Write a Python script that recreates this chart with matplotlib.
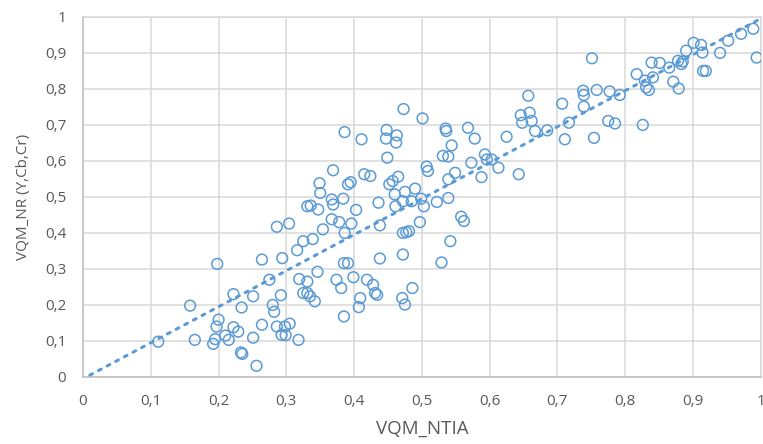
import matplotlib.pyplot as plt
import numpy as np
from matplotlib.ticker import FuncFormatter, MultipleLocator

# VQM_NTIA scores (x) and VQM_NR (Y,Cb,Cr) scores (y)
vqm_ntia = [
    0.111, 0.158, 0.165, 0.192, 0.195, 0.197, 0.200, 0.198, 0.210, 0.215,
    0.222, 0.229, 0.222, 0.234, 0.233, 0.235, 0.251, 0.251, 0.256, 0.264,
    0.264, 0.275, 0.280, 0.282, 0.286, 0.286, 0.292, 0.294, 0.293, 0.298,
    0.299, 0.305, 0.304, 0.318, 0.316, 0.319, 0.325, 0.325, 0.331, 0.331,
    0.331, 0.335, 0.339, 0.342, 0.346, 0.336, 0.347, 0.349, 0.350, 0.354,
    0.367, 0.369, 0.369, 0.367, 0.378, 0.374, 0.381, 0.385, 0.391, 0.385,
    0.384, 0.386, 0.386, 0.391, 0.395, 0.396, 0.399, 0.403, 0.409, 0.407,
    0.411, 0.415, 0.424, 0.419, 0.428, 0.431, 0.434, 0.436, 0.438, 0.438,
    0.448, 0.447, 0.449, 0.452, 0.457, 0.465, 0.463, 0.462, 0.460, 0.461,
    0.472, 0.475, 0.473, 0.472, 0.477, 0.481, 0.472, 0.471, 0.475, 0.486,
    0.485, 0.490, 0.499, 0.503, 0.497, 0.501, 0.507, 0.509, 0.522, 0.529,
    0.531, 0.539, 0.535, 0.536, 0.539, 0.539, 0.542, 0.544, 0.549, 0.558,
    0.562, 0.568, 0.573, 0.578, 0.588, 0.593, 0.596, 0.603, 0.613, 0.625,
    0.643, 0.646, 0.648, 0.657, 0.659, 0.662, 0.667, 0.685, 0.707, 0.711,
    0.717, 0.738, 0.739, 0.739, 0.751, 0.754, 0.758, 0.777, 0.775, 0.785,
    0.792, 0.817, 0.826, 0.829, 0.831, 0.835, 0.841, 0.839, 0.851, 0.865,
    0.871, 0.879, 0.878, 0.883, 0.885, 0.890, 0.901, 0.912, 0.914, 0.915,
    0.919, 0.940, 0.952, 0.971, 0.989, 0.994,
]
vqm_nr = [
    0.098, 0.198, 0.103, 0.092, 0.105, 0.140, 0.159, 0.314, 0.115, 0.103,
    0.138, 0.126, 0.230, 0.193, 0.068, 0.064, 0.224, 0.109, 0.031, 0.145,
    0.326, 0.270, 0.200, 0.181, 0.140, 0.417, 0.227, 0.330, 0.117, 0.140,
    0.116, 0.148, 0.426, 0.103, 0.352, 0.272, 0.377, 0.233, 0.233, 0.265,
    0.474, 0.224, 0.383, 0.210, 0.292, 0.476, 0.465, 0.538, 0.511, 0.410,
    0.493, 0.479, 0.574, 0.438, 0.430, 0.270, 0.247, 0.316, 0.316, 0.168,
    0.495, 0.680, 0.400, 0.535, 0.541, 0.426, 0.277, 0.464, 0.219, 0.194,
    0.660, 0.563, 0.558, 0.270, 0.256, 0.233, 0.228, 0.484, 0.421, 0.329,
    0.686, 0.662, 0.609, 0.535, 0.544, 0.556, 0.671, 0.651, 0.507, 0.474,
    0.488, 0.514, 0.744, 0.400, 0.402, 0.405, 0.340, 0.219, 0.201, 0.247,
    0.488, 0.523, 0.495, 0.474, 0.430, 0.718, 0.584, 0.572, 0.486, 0.318,
    0.614, 0.612, 0.690, 0.683, 0.497, 0.549, 0.377, 0.643, 0.567, 0.445,
    0.433, 0.692, 0.595, 0.662, 0.555, 0.618, 0.604, 0.604, 0.581, 0.667,
    0.563, 0.727, 0.706, 0.781, 0.734, 0.711, 0.683, 0.685, 0.759, 0.660,
    0.706, 0.795, 0.783, 0.751, 0.885, 0.664, 0.797, 0.793, 0.711, 0.704,
    0.783, 0.841, 0.700, 0.823, 0.804, 0.797, 0.832, 0.873, 0.872, 0.859,
    0.820, 0.801, 0.878, 0.869, 0.876, 0.906, 0.928, 0.922, 0.901, 0.850,
    0.850, 0.900, 0.934, 0.953, 0.967, 0.887,
]

# linear trendline as shown in the chart (slope, intercept, x range)
trend_slope = 1.0
trend_intercept = -0.005
trend_x = [0.01, 1.0]

blue = "#5B9BD5"
grey = "#595959"

plt.rcParams["font.family"] = ["Open Sans", "DejaVu Sans"]

fig = plt.figure(figsize=(7.63, 4.44), dpi=100)
ax = fig.add_axes([0.1088, 0.151, 0.8882, 0.811])

ax.scatter(vqm_ntia, vqm_nr, s=60, facecolors="none", edgecolors=blue,
           linewidths=1.1, zorder=3)

tx = np.array(trend_x)
ax.plot(tx, trend_slope * tx + trend_intercept, linestyle=(0, (1, 2.2)),
        color=blue, linewidth=2.2, dash_capstyle="round", zorder=4)

ax.set_xlim(0, 1)
ax.set_ylim(0, 1)
ax.xaxis.set_major_locator(MultipleLocator(0.1))
ax.yaxis.set_major_locator(MultipleLocator(0.1))

def comma_fmt(v, pos):
    if abs(v) < 1e-9:
        return "0"
    if abs(v - 1) < 1e-9:
        return "1"
    return f"{v:.1f}".replace(".", ",")

ax.xaxis.set_major_formatter(FuncFormatter(comma_fmt))
ax.yaxis.set_major_formatter(FuncFormatter(comma_fmt))

ax.grid(True, color="#D9D9D9", linewidth=1.1, zorder=0)
ax.set_axisbelow(True)
for side in ["top", "right", "left", "bottom"]:
    ax.spines[side].set_color("#D9D9D9")
    ax.spines[side].set_linewidth(1.1)
ax.spines["left"].set_color("#BFBFBF")
ax.spines["bottom"].set_color("#BFBFBF")

ax.tick_params(length=0, labelsize=11, labelcolor=grey, pad=12)
ax.set_xlabel("VQM_NTIA", fontsize=13.5, color=grey, labelpad=8)
ax.set_ylabel("VQM_NR (Y,Cb,Cr)", fontsize=11, color=grey, labelpad=10)

plt.savefig("out.png", dpi=100)
